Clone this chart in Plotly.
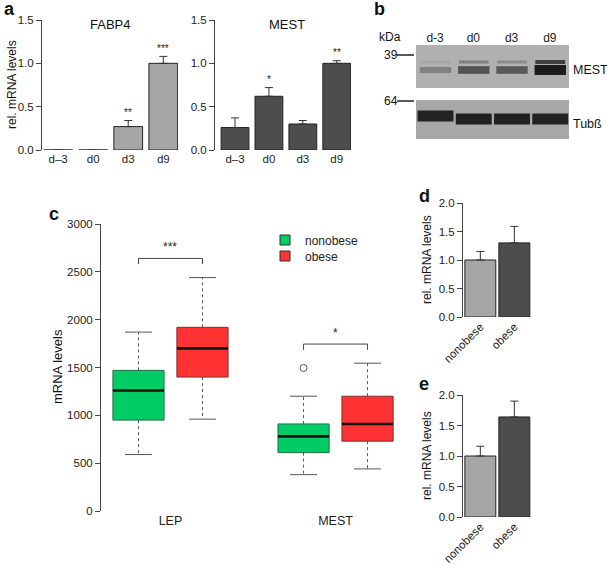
import plotly.graph_objects as go

W, H = 607, 567
FONT = "Liberation Sans, Arial, Helvetica, sans-serif"

# ---------------- data ----------------
# panel a
days = ["d–3", "d0", "d3", "d9"]
fabp4_mean = [0.0, 0.0, 0.27, 1.0]
fabp4_err = [0.0, 0.0, 0.07, 0.08]
fabp4_sig = ["", "", "**", "***"]
mest_a_mean = [0.26, 0.62, 0.30, 1.0]
mest_a_err = [0.11, 0.10, 0.04, 0.03]
mest_a_sig = ["", "*", "", "**"]

# panel b (western blot band intensities, 0..1)
blot_lanes = ["d-3", "d0", "d3", "d9"]
mest_band = [0.30, 0.62, 0.58, 1.0]
mest_upper_band = [0.05, 0.30, 0.22, 0.75]
tub_band = [0.95, 0.97, 0.97, 0.95]

# panel c (boxplot statistics)
genes = ["LEP", "MEST"]
non_low = [590, 380]
non_q1 = [950, 610]
non_med = [1260, 780]
non_q3 = [1470, 910]
non_high = [1870, 1200]
non_outliers_gene = ["MEST"]
non_outliers_val = [1495]
obe_low = [960, 440]
obe_q1 = [1400, 730]
obe_med = [1700, 910]
obe_q3 = [1920, 1200]
obe_high = [2440, 1545]
c_sig = ["***", "*"]

# panels d, e
groups = ["nonobese", "obese"]
d_mean = [1.0, 1.30]
d_err = [0.15, 0.29]
e_mean = [1.0, 1.64]
e_err = [0.16, 0.26]

# ---------------- helpers ----------------
def px(x):
    return x / W

def py(y):
    return 1 - y / H

AX = "#444444"
fig = go.Figure()

# ---------------- panel a ----------------
def bar_panel(xa, ya, cats, mean, err, color, width_frac):
    fig.add_trace(go.Bar(
        x=cats, y=mean, xaxis=xa, yaxis=ya, showlegend=False,
        marker=dict(color=color, line=dict(color="#222222", width=1)),
        width=width_frac,
        error_y=dict(type="data", array=err, arrayminus=[0] * len(err), symmetric=False,
                     color="#333333", thickness=1, width=4),
    ))
    # zero-valued bars are drawn as an outline at 0
    zx, zy = [], []
    for i, m in enumerate(mean):
        if m == 0:
            zx += [i - width_frac / 2, i + width_frac / 2, None]
            zy += [0, 0, None]
    if zx:
        fig.add_trace(go.Scatter(x=zx, y=zy, xaxis=xa, yaxis=ya, mode="lines",
                                 line=dict(color="#222222", width=1.2),
                                 showlegend=False, hoverinfo="skip"))

bar_panel("x", "y", days, fabp4_mean, fabp4_err, "#A6A6A6", 0.82)
bar_panel("x2", "y2", days, mest_a_mean, mest_a_err, "#4D4D4D", 0.82)

for i, (m, e, s) in enumerate(zip(fabp4_mean, fabp4_err, fabp4_sig)):
    if s:
        fig.add_annotation(x=i, y=m + e, xref="x", yref="y", text=s, showarrow=False,
                           yshift=8, font=dict(size=10, color="#222"))
for i, (m, e, s) in enumerate(zip(mest_a_mean, mest_a_err, mest_a_sig)):
    if s:
        fig.add_annotation(x=i, y=m + e, xref="x2", yref="y2", text=s, showarrow=False,
                           yshift=8, font=dict(size=10, color="#222"))

# ---------------- panel b (blot) ----------------
def band_color(v, bg=172):
    c = int(round(bg - v * (bg - 28)))
    return f"rgb({c},{c},{c})"

shapes = []
shapes.append(dict(type="rect", xref="x3", yref="y3", x0=0, x1=4, y0=45, y1=88,
                   fillcolor="rgb(176,176,176)", line=dict(width=0), layer="below"))
shapes.append(dict(type="rect", xref="x3", yref="y3", x0=0, x1=4, y0=100, y1=139,
                   fillcolor="rgb(168,168,168)", line=dict(width=0), layer="below"))
for i, v in enumerate(mest_upper_band):
    h = 2.5 + 2 * v
    shapes.append(dict(type="rect", xref="x3", yref="y3", x0=i + 0.12, x1=i + 0.9,
                       y0=62 - h / 2, y1=62 + h / 2, fillcolor=band_color(v),
                       line=dict(width=0), layer="above"))
for i, v in enumerate(mest_band):
    h = 4 + 6 * v
    shapes.append(dict(type="rect", xref="x3", yref="y3", x0=i + 0.1, x1=i + 0.92,
                       y0=70 - h / 2, y1=70 + h / 2, fillcolor=band_color(v),
                       line=dict(width=0), layer="above"))
for i, v in enumerate(tub_band):
    yc = 116 if i == 0 else 119
    shapes.append(dict(type="rect", xref="x3", yref="y3", x0=i + 0.04, x1=i + 0.98,
                       y0=yc - 5.5, y1=yc + 5.5, fillcolor=band_color(v),
                       line=dict(width=0), layer="above"))
# invisible trace to anchor the blot axes
fig.add_trace(go.Scatter(x=[0.5, 3.5], y=[60, 120], xaxis="x3", yaxis="y3", mode="markers",
                         marker=dict(opacity=0), showlegend=False, hoverinfo="skip"))

# marker lines 39 / 64
shapes.append(dict(type="line", xref="paper", yref="paper", x0=px(397), x1=px(414),
                   y0=py(55), y1=py(55), line=dict(color="#222", width=1.5)))
shapes.append(dict(type="line", xref="paper", yref="paper", x0=px(397), x1=px(414),
                   y0=py(101), y1=py(101), line=dict(color="#222", width=1.5)))

# ---------------- panel c (boxplots) ----------------
pos_non = [1.0, 3.58]
pos_obe = [2.0, 4.58]
BW = 0.8
FILL = {"nonobese": "#00CC66", "obese": "#FF3333"}
EDGE = {"nonobese": "#2E6B47", "obese": "#7A3030"}

def boxes(pos, low, q1, med, q3, high, name):
    fig.add_trace(go.Bar(x=pos, y=[b - a for a, b in zip(q1, q3)], base=q1, width=BW,
                         xaxis="x4", yaxis="y4", name=name, showlegend=False,
                         marker=dict(color=FILL[name], line=dict(color=EDGE[name], width=1))))
    wx, wy, cx, cy, mx, my = [], [], [], [], [], []
    for p, lo, a, m, b, hi in zip(pos, low, q1, med, q3, high):
        wx += [p, p, None, p, p, None]
        wy += [b, hi, None, a, lo, None]
        cx += [p - 0.21, p + 0.21, None, p - 0.21, p + 0.21, None]
        cy += [hi, hi, None, lo, lo, None]
        mx += [p - BW / 2, p + BW / 2, None]
        my += [m, m, None]
    fig.add_trace(go.Scatter(x=wx, y=wy, xaxis="x4", yaxis="y4", mode="lines",
                             line=dict(color="#555", width=1, dash="3px,3px"),
                             showlegend=False, hoverinfo="skip"))
    fig.add_trace(go.Scatter(x=cx, y=cy, xaxis="x4", yaxis="y4", mode="lines",
                             line=dict(color="#555", width=1),
                             showlegend=False, hoverinfo="skip"))
    fig.add_trace(go.Scatter(x=mx, y=my, xaxis="x4", yaxis="y4", mode="lines",
                             line=dict(color="#111", width=2.6),
                             showlegend=False, hoverinfo="skip"))

boxes(pos_non, non_low, non_q1, non_med, non_q3, non_high, "nonobese")
boxes(pos_obe, obe_low, obe_q1, obe_med, obe_q3, obe_high, "obese")

# legend entries (one legend per group so rows can be placed exactly)
for name, lg in (("nonobese", "legend"), ("obese", "legend2")):
    fig.add_trace(go.Scatter(x=[None], y=[None], xaxis="x4", yaxis="y4", mode="markers",
                             name=name, legend=lg, showlegend=True,
                             marker=dict(symbol="square", size=10, color=FILL[name],
                                         line=dict(color="#333", width=1))))

fig.add_trace(go.Scatter(x=[pos_non[genes.index(g)] for g in non_outliers_gene], y=non_outliers_val,
                         xaxis="x4", yaxis="y4", mode="markers",
                         marker=dict(symbol="circle-open", size=7, color="#555", line=dict(width=1)),
                         showlegend=False, hoverinfo="skip"))

# significance brackets
bx, by = [], []
for i, g in enumerate(genes):
    top = max(obe_high[i], non_high[i],
              max([v for gg, v in zip(non_outliers_gene, non_outliers_val) if gg == g], default=0))
    yb = top + 200
    bx += [pos_non[i], pos_non[i], pos_obe[i], pos_obe[i], None]
    by += [yb - 60, yb, yb, yb - 60, None]
    fig.add_annotation(x=(pos_non[i] + pos_obe[i]) / 2, y=yb, xref="x4", yref="y4",
                       text=c_sig[i], showarrow=False, yshift=11,
                       font=dict(size=12, color="#222"))
fig.add_trace(go.Scatter(x=bx, y=by, xaxis="x4", yaxis="y4", mode="lines",
                         line=dict(color="#444", width=1), showlegend=False, hoverinfo="skip"))

# ---------------- panels d, e ----------------
for xa, ya, mean, err in (("x5", "y5", d_mean, d_err), ("x6", "y6", e_mean, e_err)):
    fig.add_trace(go.Bar(x=groups, y=mean, xaxis=xa, yaxis=ya, showlegend=False, width=0.91,
                         marker=dict(color=["#A6A6A6", "#4D4D4D"], line=dict(color="#222", width=1)),
                         error_y=dict(type="data", array=err, arrayminus=[0, 0], symmetric=False,
                                      color="#333", thickness=1, width=4)))

# ---------------- layout ----------------
tickf = dict(family=FONT, size=11.5, color="#222")

def yax(dom, rng, dtick, fmt=None, anchor=None):
    d = dict(domain=dom, range=rng, dtick=dtick, showline=True, linecolor=AX, linewidth=1,
             ticks="outside", ticklen=5, tickcolor=AX, showgrid=False, zeroline=False,
             tickfont=tickf, anchor=anchor, fixedrange=True, automargin=False)
    if fmt:
        d["tickformat"] = fmt
    return d

def xax(dom, rng, anchor, **kw):
    d = dict(domain=dom, range=rng, anchor=anchor, showline=False, ticks="", showgrid=False,
             zeroline=False, tickfont=tickf, fixedrange=True, automargin=False)
    d.update(kw)
    return d

legstyle = dict(xanchor="left", yanchor="middle", bgcolor="rgba(0,0,0,0)",
                font=dict(size=12, family=FONT, color="#222"), itemwidth=30,
                borderwidth=0)
layout = dict(
    template="none",
    width=W, height=H, margin=dict(l=0, r=0, t=0, b=0, autoexpand=False),
    paper_bgcolor="white", plot_bgcolor="rgba(0,0,0,0)",
    font=dict(family=FONT, color="#222"),
    barmode="overlay", showlegend=True,
    legend=dict(x=px(265), y=py(240), **legstyle),
    legend2=dict(x=px(265), y=py(256), **legstyle),
    shapes=shapes,
)
# panel a
layout["xaxis"] = xax([px(42), px(178)], [-0.46, 3.42], "y")
layout["yaxis"] = yax([py(150), py(20)], [0, 1.5], 0.5, ".1f", "x")
layout["xaxis2"] = xax([px(215), px(351)], [-0.59, 3.42], "y2")
layout["yaxis2"] = yax([py(150), py(20)], [0, 1.5], 0.5, ".1f", "x2")
# panel b
layout["xaxis3"] = xax([px(416), px(569)], [0, 4], "y3", side="top",
                       tickvals=[0.5, 1.5, 2.5, 3.5], ticktext=blot_lanes,
                       tickfont=dict(family=FONT, size=12, color="#222"))
layout["yaxis3"] = dict(domain=[py(139), py(45)], range=[139, 45], visible=False,
                        anchor="x3", fixedrange=True, automargin=False)
# panel c
layout["xaxis4"] = xax([px(101), px(420)], [0.414, 5.4], "y4",
                       tickvals=[(a + b) / 2 for a, b in zip(pos_non, pos_obe)], ticktext=genes,
                       tickfont=dict(family=FONT, size=12.5, color="#222"))
layout["yaxis4"] = yax([py(511), py(224)], [0, 3000], 500, None, "x4")
# panel d
layout["xaxis5"] = xax([px(463), px(531)], [-0.51, 1.49], "y5", tickangle=-45)
layout["yaxis5"] = yax([py(317), py(203)], [0, 2.0], 0.5, ".1f", "x5")
# panel e
layout["xaxis6"] = xax([px(463), px(531)], [-0.51, 1.49], "y6", tickangle=-45)
layout["yaxis6"] = yax([py(517), py(395)], [0, 2.0], 0.5, ".1f", "x6")
fig.update_layout(**layout)

# ---------------- text annotations ----------------
def txt(x, y, s, size=12, bold=False, anchor="center", angle=0):
    fig.add_annotation(x=px(x), y=py(y), xref="paper", yref="paper", text=f"<b>{s}</b>" if bold else s,
                       showarrow=False, xanchor=anchor, yanchor="middle", textangle=angle,
                       font=dict(size=size, family=FONT, color="#111"))

txt(2, 9, "a", 18, True, "left")
txt(372, 9, "b", 18, True, "left")
txt(47, 214, "c", 18, True, "left")
txt(417, 196, "d", 18, True, "left")
txt(417, 384, "e", 18, True, "left")

txt(110, 25, "FABP4", 13)
txt(287, 25, "MEST", 13)
txt(12, 85, "rel. mRNA levels", 12, angle=-90)
txt(57, 367, "mRNA levels", 13, angle=-90)
txt(427, 260, "rel. mRNA levels", 12, angle=-90)
txt(427, 456, "rel. mRNA levels", 12, angle=-90)

txt(377, 37, "kDa", 12, anchor="left")
txt(391, 55, "39", 12)
txt(391, 101, "64", 12)
txt(571, 70, "MEST", 12.5, anchor="left")
txt(571, 124, "Tubß", 12.5, anchor="left")

fig.write_html("out.html", config={"displayModeBar": False},
               post_script="document.body.style.margin='0px';document.body.style.overflow='hidden';")
